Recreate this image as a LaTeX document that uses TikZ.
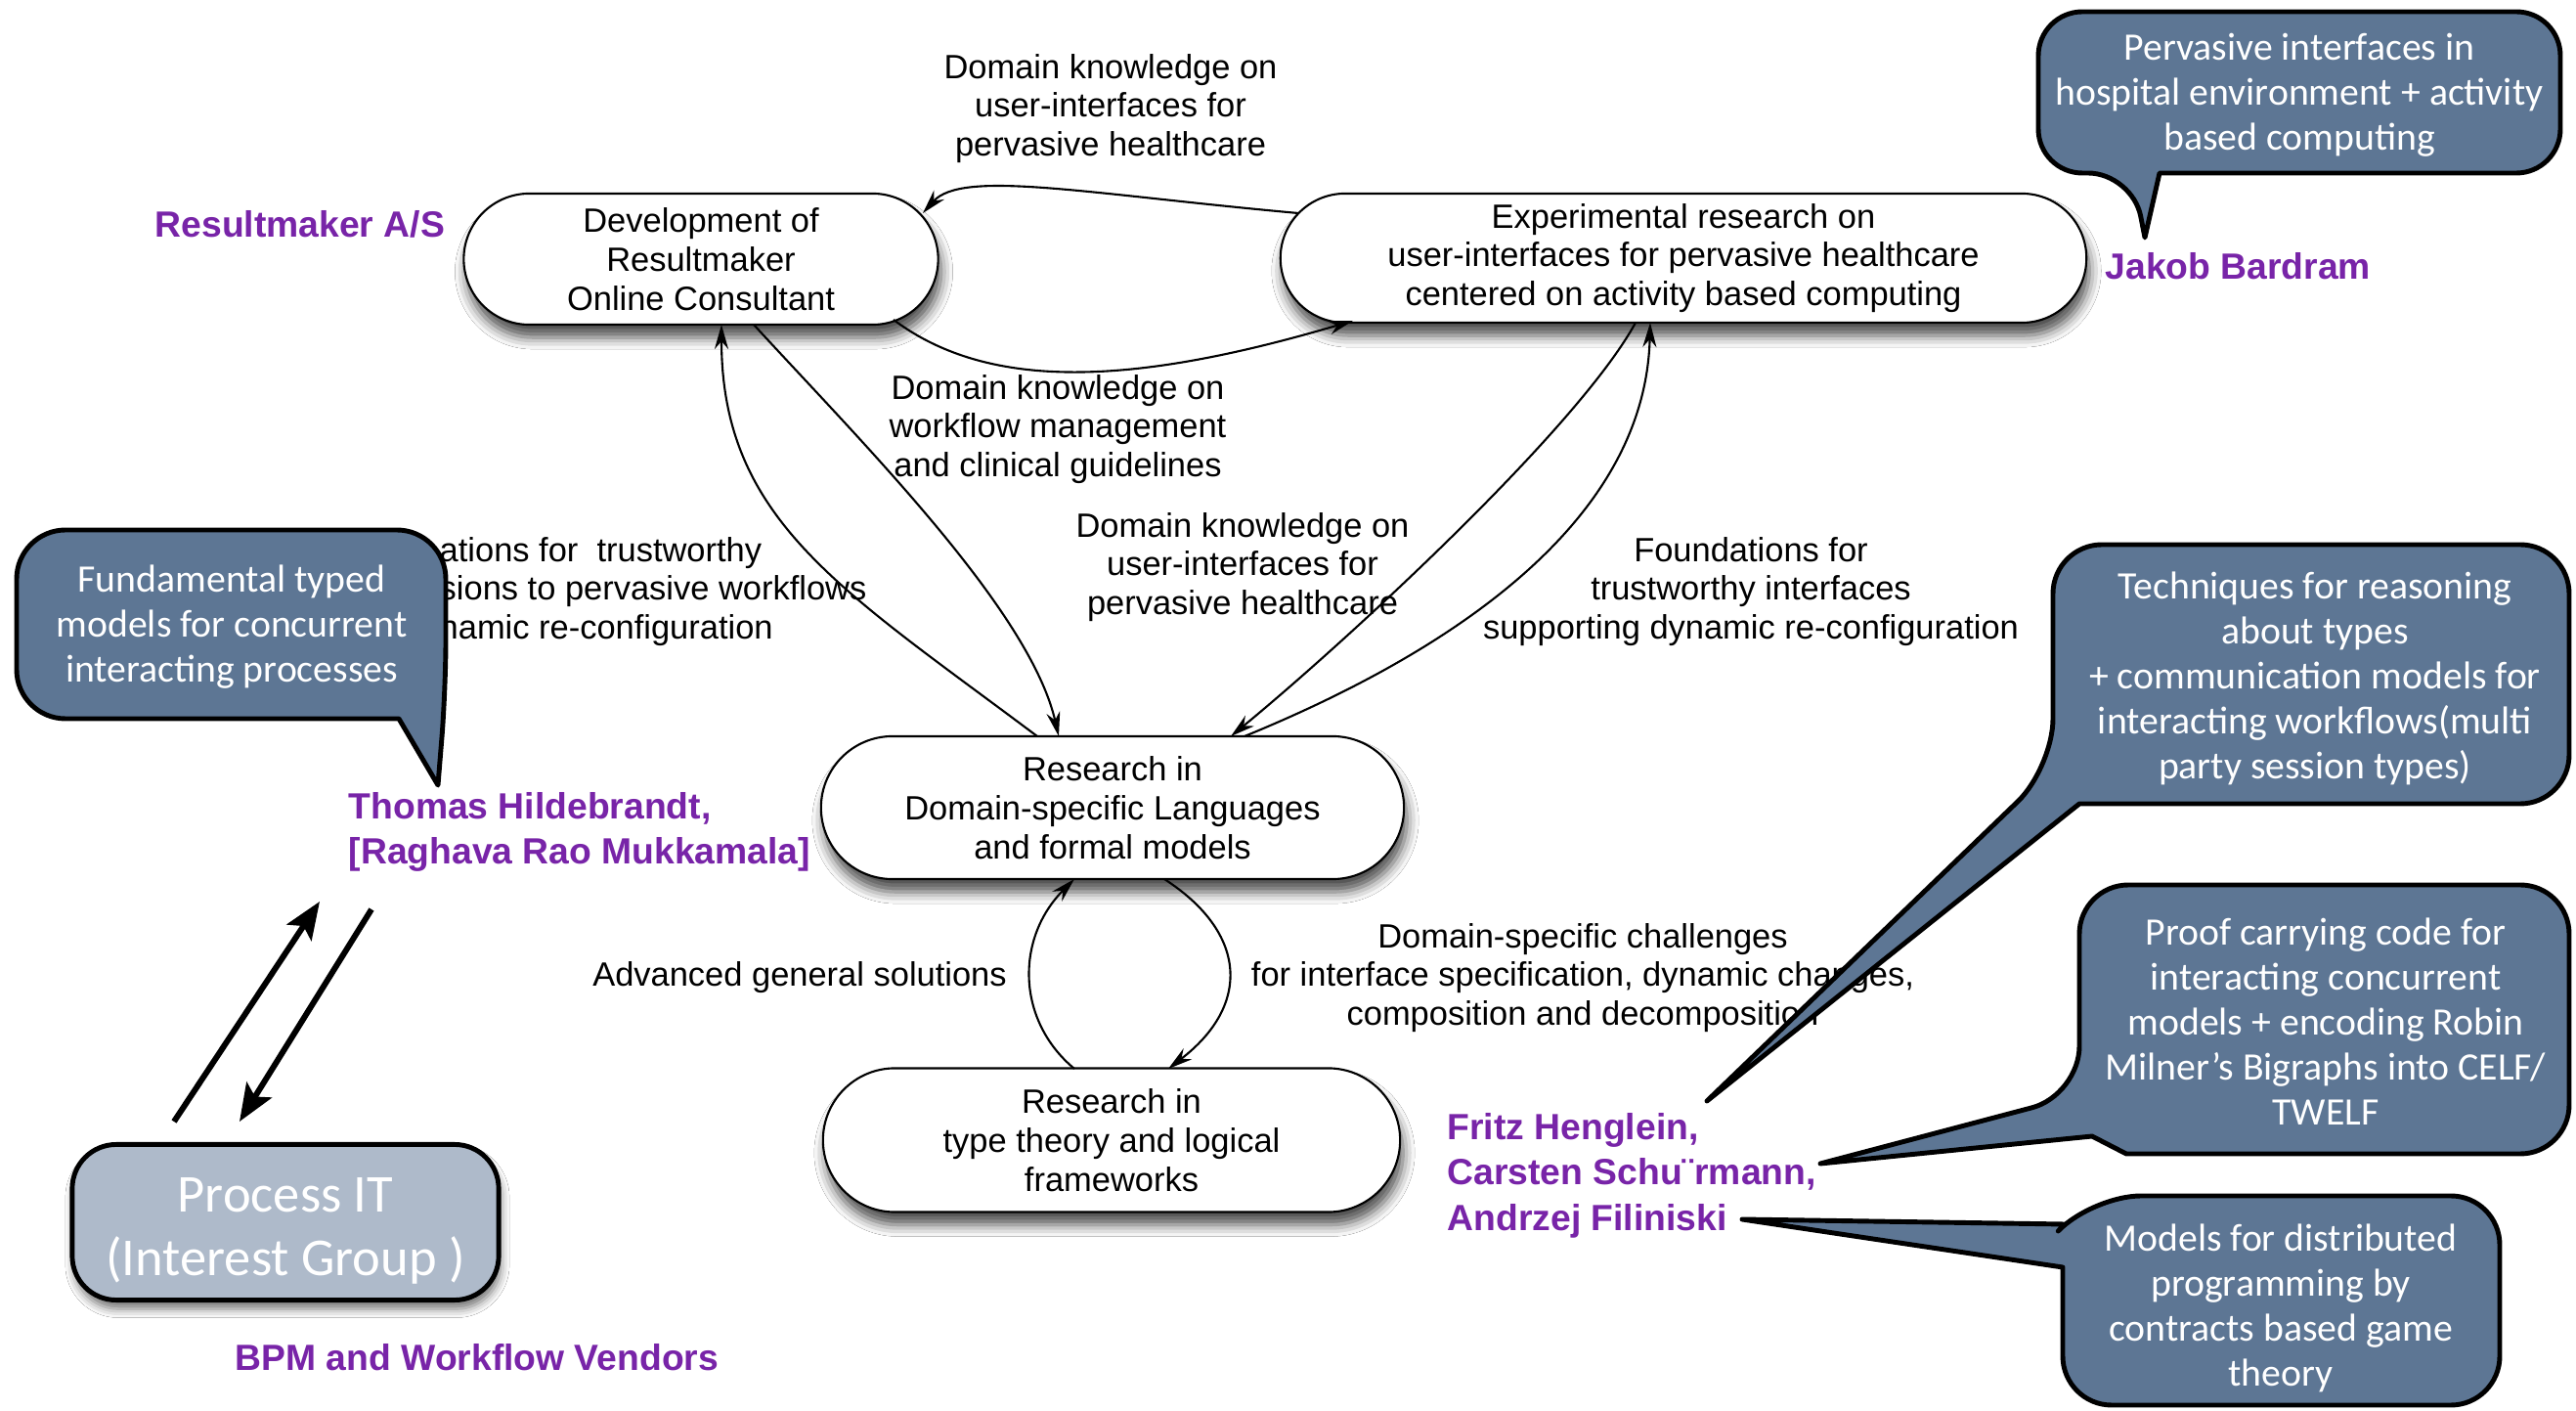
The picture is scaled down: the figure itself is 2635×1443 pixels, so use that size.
\documentclass[tikz,border=0pt]{standalone}
\usepackage{fontspec}
\setmainfont{Liberation Sans}
\newfontfamily\gillfont{Carlito}
\usetikzlibrary{shapes.misc,arrows.meta,shadows.blur}

\definecolor{namepurple}{RGB}{120,36,168}
\definecolor{calloutblue}{RGB}{93,118,148}
\definecolor{groupgrey}{RGB}{174,186,202}

\tikzset{
  pill/.style={rounded rectangle, draw, fill=white, line width=0.6pt,
    align=center, inner sep=0pt, font=\fontsize{9.8}{11.3}\selectfont,
    blur shadow={shadow xshift=0.03cm, shadow yshift=-0.13cm,
      shadow blur radius=0.12cm, shadow opacity=70}},
  lbl/.style={align=center, inner sep=0pt, font=\fontsize{9.8}{11.3}\selectfont},
  who/.style={text=namepurple, inner sep=0pt, align=left,
    font=\fontsize{10.6}{12.9}\selectfont\bfseries},
  link/.style={line width=0.6pt, -{Stealth[length=0.25cm,width=0.14cm]}},
  callout/.style={fill=calloutblue, draw=black, line width=1.4pt, line join=round},
  callouttext/.style={text=white, align=center, inner sep=0pt,
    font=\gillfont\fontsize{11.3}{13.1}\selectfont},
  bigarrow/.style={line width=1.7pt, -{Stealth[length=0.38cm,width=0.3cm,inset=0.08cm]}},
}

\begin{document}
\begin{tikzpicture}[x=0.01cm,y=-0.01cm]
\useasboundingbox (0,0) rectangle (2635,1443);
\fill[white] (0,0) rectangle (2635,1443);

% ---------- edge labels ----------
\node[lbl] (l1) at (1136,111) {Domain knowledge on\\user-interfaces for\\pervasive healthcare};
\node[lbl] (l2) at (1082,439) {Domain knowledge on\\workflow management\\and clinical guidelines};
% this label runs in under the left callout, which hides its beginning
\node[lbl, anchor=west, align=left] (l3) at (449,605)
  {ations for\ \ trustworthy\\sions to pervasive workflows\\namic re-configuration};
\node[lbl] (l4) at (1271,580) {Domain knowledge on\\user-interfaces for\\pervasive healthcare};
\node[lbl] (l5) at (1791,605) {Foundations for\\trustworthy interfaces\\supporting dynamic re-configuration};
\node[lbl] (l6) at (818,1000) {Advanced general solutions};
\node[lbl] (l7) at (1619,1000) {Domain-specific challenges\\for interface specification, dynamic changes,\\composition and decomposition};

% ---------- activity nodes ----------
\node[pill, minimum width=4.85cm, minimum height=1.34cm] (dev) at (717,265)
  {Development of\\Resultmaker\\Online Consultant};
\node[pill, minimum width=8.24cm, minimum height=1.32cm] (exp) at (1722,264)
  {Experimental research on\\user-interfaces for pervasive healthcare\\centered on activity based computing};
\node[pill, minimum width=5.96cm, minimum height=1.46cm] (dsl) at (1138,826)
  {Research in\\Domain-specific Languages\\and formal models};
\node[pill, minimum width=5.90cm, minimum height=1.47cm] (typ) at (1137,1166)
  {Research in\\type theory and logical\\frameworks};

% ---------- connectors ----------
\draw[link] ([shift={(-394,-46)}]exp.center) .. controls +(-220,-20) and +(40,-45) .. ([shift={(227,-47)}]dev.center);
\draw[link] ([shift={(197,62)}]dev.center) .. controls +(100,75) and +(-220,65) .. ([shift={(-338,64)}]exp.center);
\draw[link] ([shift={(-77,-73)}]dsl.center) .. controls +(-200,-150) and +(0,200) .. ([shift={(21,67)}]dev.center);
\draw[link] ([shift={(54,67)}]dev.center) .. controls +(110,120) and +(-30,-130) .. ([shift={(-55,-73)}]dsl.center);
\draw[link] ([shift={(-49,66)}]exp.center) .. controls +(-60,110) and +(110,-90) .. ([shift={(121,-73)}]dsl.center);
\draw[link] ([shift={(135,-73)}]dsl.center) .. controls +(220,-90) and +(-5,200) .. ([shift={(-34,66)}]exp.center);
\draw[link] ([shift={(-38,-73)}]typ.center) .. controls +(-60,-50) and +(-60,60) .. ([shift={(-39,73)}]dsl.center);
\draw[link] ([shift={(53,73)}]dsl.center) .. controls +(85,55) and +(85,-65) .. ([shift={(58,-73)}]typ.center);

% ---------- people and organisations ----------
\node[who, anchor=west] (resultmaker) at (158,229) {Resultmaker A/S};
\node[who, anchor=west] (jakob) at (2153,272) {Jakob Bardram};
\node[who, anchor=west] (thomas) at (356,851) {Thomas Hildebrandt,\\{}[Raghava Rao Mukkamala]};
\node[who, anchor=west] (bpm) at (240,1388) {BPM and Workflow Vendors};
\node[who, anchor=west, font=\fontsize{10.6}{13.2}\selectfont\bfseries] (fritz) at (1480,1202)
  {Fritz Henglein,\\Carsten Schu¨rmann,\\Andrzej Filiniski};

% ---------- callouts ----------
\draw[callout] (2209,177) [rounded corners=0.45cm] -- (2619,177) -- (2619,12) -- (2085,12)
  -- (2085,177) -- (2181,177) [sharp corners] -- (2194,243) -- cycle;
\node[callouttext] (c1) at (2352,97) {Pervasive interfaces in\\hospital environment + activity\\based computing};

\draw[callout] (408,735) [rounded corners=0.5cm] -- (17,735) -- (17,542) -- (456,542)
  -- (456,705) [sharp corners] -- (448,803) -- cycle;
\node[callouttext] (c2) at (237,641) {Fundamental typed\\models for concurrent\\interacting processes};

\draw[callout] (2127,822) [rounded corners=0.5cm] -- (2628,822) -- (2628,557) -- (2100,557)
  -- (2100,785) [sharp corners] -- (1746,1126) -- cycle;
\node[callouttext] (c3) at (2368,694) {Techniques for reasoning\\about types\\+ communication models for\\interacting workflows(multi\\party session types)};

\draw[callout] (2175,1180) [rounded corners=0.5cm] -- (2628,1180) -- (2628,905) -- (2127,905)
  -- (2127,1120) [sharp corners] -- (1862,1190) -- (2140,1162) -- cycle;
\node[callouttext] (c4) at (2379,1045) {Proof carrying code for\\interacting concurrent\\models + encoding Robin\\Milner’s Bigraphs into CELF/\\TWELF};

\draw[callout] (2110,1296) [rounded corners=0.5cm] -- (2110,1437) -- (2557,1437) -- (2557,1223)
  -- (2140,1223) [sharp corners] -- (2112,1252) -- (1782,1247) -- cycle;
\node[callouttext] (c5) at (2333,1338) {Models for distributed\\programming by\\contracts based game\\theory};

% ---------- interest group ----------
\node[draw, line width=1.4pt, fill=groupgrey, rounded corners=0.45cm,
  minimum width=4.36cm, minimum height=1.59cm,
  blur shadow={shadow xshift=0.02cm, shadow yshift=-0.09cm, shadow blur radius=0.09cm, shadow opacity=55}]
  (procit) at (292,1250) {};
\node[text=white, align=center, inner sep=0pt,
  font=\gillfont\fontsize{15.5}{18.5}\selectfont] (procittext) at (292,1259)
  {Process IT\\(Interest Group )};

\coordinate (upfrom) at (178,1147);
\coordinate (upto) at (327,922);
\coordinate (downfrom) at (380,930);
\coordinate (downto) at (245,1147);
\draw[bigarrow] (upfrom) -- (upto);
\draw[bigarrow] (downfrom) -- (downto);
\end{tikzpicture}
\end{document}
